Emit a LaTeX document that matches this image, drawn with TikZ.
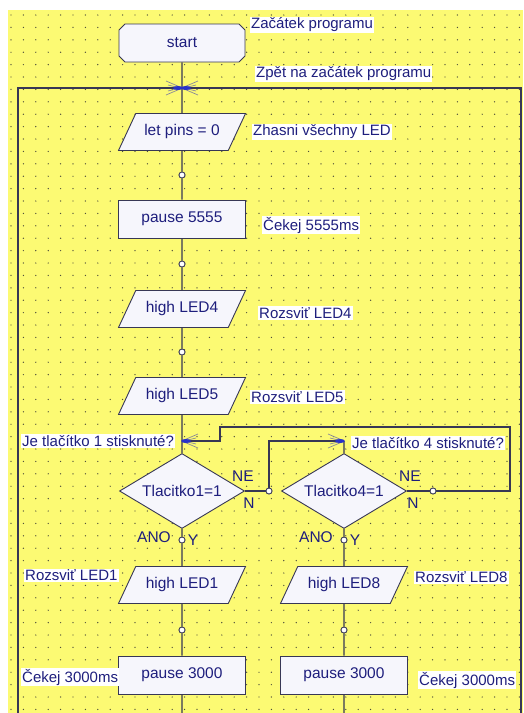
\documentclass[tikz,border=0pt]{standalone}
\usepackage{fontspec}
\setmainfont{Liberation Sans}
\usetikzlibrary{shapes.geometric,shapes.misc}
\definecolor{podklad}{RGB}{252,250,115}
\definecolor{cara}{RGB}{55,55,85}
\definecolor{vypln}{RGB}{246,246,252}
\definecolor{pismo}{RGB}{30,30,125}
\definecolor{spoj}{RGB}{40,50,200}
\definecolor{tecka}{RGB}{80,80,60}
\tikzset{
  pismeno/.style={font=\fontsize{15.5}{17}\selectfont, text=pismo},
  krok/.style={pismeno, draw=cara, fill=vypln, line width=0.9pt, inner sep=0pt},
  zacatek/.style={krok, chamfered rectangle, chamfered rectangle xsep=3pt, chamfered rectangle ysep=3pt, minimum width=126, minimum height=38},
  prikaz/.style={krok, rectangle, minimum width=127, minimum height=38},
  vstup/.style={krok, trapezium, trapezium left angle=65, trapezium right angle=115, trapezium stretches body, text height=10pt, text depth=3pt, inner xsep=0pt, inner ysep=12pt, minimum width=127},
  rozhod/.style={krok, diamond, aspect=1.65, minimum width=125, minimum height=75},
  kolo/.style={circle, draw=cara, fill=white, line width=0.8pt, minimum size=6pt, inner sep=0pt},
  popis/.style={font=\fontsize{15}{17}\selectfont, text=pismo, fill=white, inner sep=1pt, anchor=west},
  znak/.style={pismeno, inner sep=0pt},
  vedeni/.style={draw=cara, line width=1.1pt}
}
\newcommand{\sbeh}[2]{%
  \begin{scope}[shift={(#1)}, xscale=#2]
    \draw[cara!60, line width=0.7pt] (2,-1) -- (16,-7) (2,1) -- (16,7) (6,-1) -- (14,-3) (6,1) -- (14,3);
    \fill[spoj] (4,0) ellipse [x radius=5pt, y radius=2pt];
  \end{scope}}
\begin{document}
\begin{tikzpicture}[x=1pt, y=-1pt]
  \useasboundingbox (0,0) rectangle (523,713);
  \fill[podklad] (8,10) rectangle (523,713);
  \foreach \i in {0,...,41}
    \foreach \j in {0,...,56}
      \fill[tecka] (11+12.4*\i, 15+12.4*\j) circle (0.7pt);

  \node[zacatek] (start) at (182,43) {start};
  \coordinate (zpet) at (182,88);
  \node[vstup] (piny) at (182,132) {let pins = 0};
  \node[kolo] (k1) at (182,175) {};
  \node[prikaz] (cek1) at (182,219) {pause 5555};
  \node[kolo] (k2) at (182,264) {};
  \node[vstup] (led4) at (182,309) {high LED4};
  \node[kolo] (k3) at (182,352) {};
  \node[vstup] (led5) at (182,396) {high LED5};
  \coordinate (sber1) at (182,441);
  \node[rozhod] (tl1) at (182,491) {Tlacitko1=1};
  \node[kolo] (a1) at (182,540) {};
  \node[vstup] (led1) at (182,585) {high LED1};
  \node[kolo] (k4) at (182,630) {};
  \node[prikaz] (cek3) at (182,675) {pause 3000};
  \coordinate (dole1) at (182,713);

  \coordinate (sber4) at (344,441);
  \node[rozhod] (tl4) at (344,491) {Tlacitko4=1};
  \node[kolo] (a4) at (344,540) {};
  \node[vstup] (led8) at (344,585) {high LED8};
  \node[kolo] (k5) at (344,630) {};
  \node[prikaz] (cek4) at (344,675) {pause 3000};
  \coordinate (dole4) at (344,713);

  \node[kolo] (n1) at (269,491) {};
  \node[kolo] (n4) at (433,491) {};
  \coordinate (roh4) at (510,427);
  \coordinate (roh1) at (220,427);
  \coordinate (levy) at (18,713);
  \coordinate (pravy) at (521,713);

  \draw[vedeni] (start) -- (zpet) -- (piny) -- (k1) -- (cek1) -- (k2) -- (led4) -- (k3) -- (led5) -- (sber1) -- (tl1) -- (a1) -- (led1) -- (k4) -- (cek3) -- (dole1);
  \draw[vedeni] (sber4) -- (tl4) -- (a4) -- (led8) -- (k5) -- (cek4) -- (dole4);
  \draw[vedeni] (tl1.east) -- (n1) |- (sber4);
  \draw[vedeni] (tl4.east) -- (n4) -| (roh4) -- (roh1) |- (sber1);
  \draw[vedeni] (levy) |- (zpet);
  \draw[vedeni] (pravy) |- (zpet);
  \foreach \k in {k1,k2,k3,a1,k4,a4,k5,n1,n4}
    \node[kolo] at (\k) {};
  \sbeh{zpet}{1}
  \sbeh{zpet}{-1}
  \sbeh{sber1}{1}
  \sbeh{sber4}{-1}

  \node[popis] (pZac) at (250,25) {Začátek programu};
  \node[popis] (pZpet) at (255,74) {Zpět na začátek programu};
  \node[popis] (pZhas) at (252,132) {Zhasni všechny LED};
  \node[popis] (pCek1) at (262,225) {Čekej 5555ms};
  \node[popis] (pLed4) at (258,313) {Rozsviť LED4};
  \node[popis] (pLed5) at (250,397) {Rozsviť LED5};
  \node[popis] (pTl1) at (21,441) {Je tlačítko 1 stisknuté?};
  \node[popis] (pTl4) at (351,443) {Je tlačítko 4 stisknuté?};
  \node[popis] (pLed1) at (24,575) {Rozsviť LED1};
  \node[popis] (pLed8) at (414,577) {Rozsviť LED8};
  \node[popis] (pCek3) at (21,677) {Čekej 3000ms};
  \node[popis] (pCek4) at (418,680) {Čekej 3000ms};
  \node[znak] (ne1) at (243,476) {NE};
  \node[znak] (n1t) at (249,503) {N};
  \node[znak] (ano1) at (154,537) {ANO};
  \node[znak] (y1) at (193,540) {Y};
  \node[znak] (ne4) at (410,476) {NE};
  \node[znak] (n4t) at (413,503) {N};
  \node[znak] (ano4) at (316,537) {ANO};
  \node[znak] (y4) at (355,540) {Y};
\end{tikzpicture}
\end{document}
